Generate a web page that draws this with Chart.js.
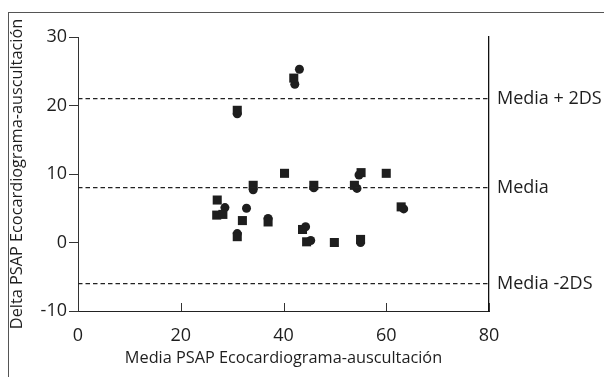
<!DOCTYPE html>
<html>
<head>
<meta charset="utf-8">
<script src="https://cdn.jsdelivr.net/npm/chart.js@4.4.0/dist/chart.umd.min.js"></script>
<style>
  html, body { margin: 0; padding: 0; background: #fff; }
  #wrap { position: relative; width: 604px; height: 377px; }
  #frame {
    position: absolute; left: 8px; top: 12px; right: 0; bottom: 0;
    border-left: 1px solid #555; border-top: 1px solid #555;
  }
  canvas { position: absolute; left: 0; top: 0; }
</style>
</head>
<body>
<div id="wrap">
  <div id="frame"></div>
  <canvas id="chart" width="604" height="377"></canvas>
</div>
<script>
// Bland-Altman: media vs diferencia
const squareX = [42.0, 31.0, 40.2, 34.1, 45.9, 27.1, 27.0, 28.2, 32.0, 37.0, 31.0, 43.7, 44.5, 49.9, 55.1, 60.0, 53.8, 62.9, 55.0];
const squareY = [24.0, 19.3, 10.1, 8.35, 8.35, 6.2, 4.0, 4.1, 3.2, 3.0, 0.85, 1.9, 0.1, 0.0, 10.2, 10.1, 8.35, 5.2, 0.45];
const circleX = [43.1, 42.2, 31.0, 34.1, 45.9, 28.6, 32.8, 37.0, 31.0, 44.3, 45.3, 54.7, 54.3, 63.4, 55.0];
const circleY = [25.3, 23.1, 18.8, 7.7, 8.0, 5.1, 5.0, 3.5, 1.3, 2.3, 0.3, 9.85, 7.9, 4.9, 0.0];

// limites de concordancia
const limitValues = [21.0, 8.0, -6.0];
const limitLabels = ["Media + 2DS", "Media", "Media -2DS"];

const xTicks = [0, 20, 40, 60, 80];
const yTicks = [-10, 0, 10, 20, 30];

const ink = "#1e1e1e";

function toPoints(xs, ys) {
  return xs.map((x, i) => ({ x: x, y: ys[i] }));
}

const limitSets = limitValues.map((v) => ({
  type: "line",
  data: [{ x: xTicks[0], y: v }, { x: xTicks[xTicks.length - 1], y: v }],
  borderColor: "#222",
  borderWidth: 1.3,
  borderDash: [4.5, 3],
  pointRadius: 0,
  fill: false,
}));

// marcas de graduacion hacia dentro en el eje x
const innerTicks = {
  id: "innerTicks",
  afterDraw(chart) {
    const xs = chart.scales.x;
    const ctx = chart.ctx;
    const bottom = chart.chartArea.bottom;
    ctx.save();
    ctx.strokeStyle = "#333";
    ctx.lineWidth = 1;
    xTicks.forEach((t) => {
      const px = Math.round(xs.getPixelForValue(t)) + 0.5;
      ctx.beginPath();
      ctx.moveTo(px, bottom);
      ctx.lineTo(px, bottom - 8);
      ctx.stroke();
    });
    ctx.restore();
  },
};

const ctx = document.getElementById("chart").getContext("2d");
const chart = new Chart(ctx, {
  type: "scatter",
  data: {
    datasets: [
      ...limitSets,
      {
        data: toPoints(squareX, squareY),
        pointStyle: "rect",
        pointRadius: 6.4,
        backgroundColor: ink,
        borderColor: ink,
        borderWidth: 0,
      },
      {
        data: toPoints(circleX, circleY),
        pointStyle: "circle",
        pointRadius: 4.5,
        backgroundColor: ink,
        borderColor: ink,
        borderWidth: 0,
      },
    ],
  },
  options: {
    responsive: false,
    animation: false,
    layout: { padding: { top: 37, right: 0, bottom: 0, left: 0 } },
    plugins: {
      legend: { display: false },
      tooltip: { enabled: false },
    },
    scales: {
      x: {
        type: "linear",
        min: 0,
        max: 80,
        afterBuildTicks: (s) => { s.ticks = xTicks.map((v) => ({ value: v })); },
        afterFit: (s) => { s.height = 66; },
        grid: { drawOnChartArea: false, drawTicks: false },
        border: { color: "#222", width: 1 },
        ticks: {
          padding: 14,
          color: ink,
          font: { family: "Open Sans", size: 18 },
        },
        title: {
          display: true,
          text: "Media PSAP Ecocardiograma-auscultación",
          color: ink,
          font: { family: "Open Sans", size: 16.3, lineHeight: 1 },
          padding: { top: 0, bottom: 10 },
        },
      },
      y: {
        type: "linear",
        position: "left",
        min: -10,
        max: 30,
        afterBuildTicks: (s) => { s.ticks = yTicks.map((v) => ({ value: v })); },
        afterFit: (s) => { s.width = 78; },
        grid: { drawOnChartArea: false, drawTicks: true, tickLength: 9, color: "#333" },
        border: { color: "#333", width: 1 },
        ticks: {
          padding: 2,
          color: ink,
          font: { family: "Open Sans", size: 18 },
        },
        title: {
          display: true,
          text: "Delta PSAP Ecocardiograma-auscultación",
          color: ink,
          font: { family: "Open Sans", size: 16.3, lineHeight: 1.2 },
          padding: { top: 8, bottom: 0 },
        },
      },
      y2: {
        type: "linear",
        position: "right",
        min: -10,
        max: 30,
        afterBuildTicks: (s) => { s.ticks = limitValues.map((v) => ({ value: v })); },
        afterFit: (s) => { s.width = 115; },
        grid: { drawOnChartArea: false, drawTicks: false },
        border: { color: "#111", width: 1.3 },
        ticks: {
          autoSkip: false,
          padding: 8,
          color: ink,
          font: { family: "Open Sans", size: 18 },
          callback: (v, i) => limitLabels[i],
        },
      },
    },
  },
  plugins: [innerTicks],
});
</script>
</body>
</html>
